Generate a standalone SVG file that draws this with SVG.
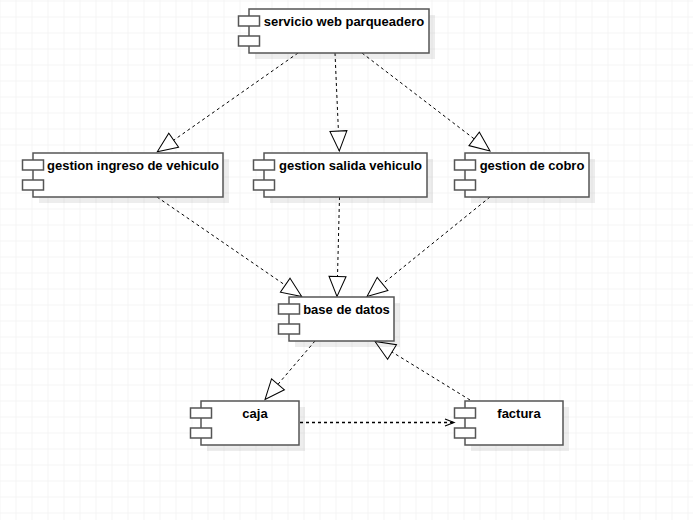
<svg xmlns="http://www.w3.org/2000/svg" width="693" height="520" viewBox="0 0 693 520">
<defs>
  <pattern id="grid" x="15.5" y="0.5" width="16" height="16" patternUnits="userSpaceOnUse">
    <path d="M0,0 V16 M0,0 H16" fill="none" stroke="#ececec" stroke-width="1"/>
  </pattern>
  <marker id="tri" markerUnits="userSpaceOnUse" markerWidth="24" markerHeight="21" refX="21" refY="10.5" orient="auto" viewBox="0 0 24 21">
    <path d="M1,2 L21,10.5 L1,19 Z" fill="#fff" stroke="#000" stroke-width="1"/>
  </marker>
  <marker id="open" markerUnits="userSpaceOnUse" markerWidth="12" markerHeight="10" refX="10" refY="5" orient="auto" viewBox="0 0 12 10">
    <path d="M1,1.5 L10,5 L1,8.5" fill="none" stroke="#000" stroke-width="1.2"/>
  </marker>
</defs>
<style>
  .shadow { fill: #000; fill-opacity: 0.07; stroke: none; }
  .box { fill: #fff; stroke: #555; stroke-width: 1.5; }
  .port { fill: #fff; stroke: #555; stroke-width: 1.5; }
  .label { font-family: "Liberation Sans", Arial, sans-serif; font-size: 13px; font-weight: bold; fill: #000; text-anchor: middle; }
  .dep { fill: none; stroke: #000; stroke-width: 1; stroke-dasharray: 3 3; marker-end: url(#tri); }
  .use { fill: none; stroke: #000; stroke-width: 1.4; stroke-dasharray: 3 3; marker-end: url(#open); }
</style>
<rect x="0" y="0" width="693" height="520" fill="#fff"/>
<rect x="0" y="0" width="693" height="520" fill="url(#grid)"/>

<g id="connectors">
  <path class="dep" d="M298,53 L157.3,151.7"/>
  <path class="dep" d="M335,53 L339.3,151"/>
  <path class="dep" d="M362,53 L490,151"/>
  <path class="dep" d="M157,197 L301.7,296.5"/>
  <path class="dep" d="M339.5,197 L337,296.5"/>
  <path class="dep" d="M490,197 L367,296.5"/>
  <path class="dep" d="M315,341 L265,399.5"/>
  <path class="dep" d="M470,400 L375,341.5"/>
  <path class="use" d="M300,422.5 L454,422.5"/>
</g>

<g id="servicio">
  <rect class="shadow" x="255" y="15" width="180" height="44"/>
  <rect class="box" x="249" y="9" width="180" height="44"/>
  <rect class="port" x="238.5" y="16" width="21" height="10"/>
  <rect class="port" x="238.5" y="36" width="21" height="10"/>
  <text class="label" x="344" y="26">servicio web parqueadero</text>
</g>

<g id="ingreso">
  <rect class="shadow" x="39" y="159" width="190" height="44"/>
  <rect class="box" x="33" y="153" width="190" height="44"/>
  <rect class="port" x="22.5" y="160" width="21" height="10"/>
  <rect class="port" x="22.5" y="180" width="21" height="10"/>
  <text class="label" x="133" y="170">gestion ingreso de vehiculo</text>
</g>

<g id="salida">
  <rect class="shadow" x="270" y="159" width="163" height="44"/>
  <rect class="box" x="264" y="153" width="163" height="44"/>
  <rect class="port" x="253.5" y="160" width="21" height="10"/>
  <rect class="port" x="253.5" y="180" width="21" height="10"/>
  <text class="label" x="350.5" y="170">gestion salida vehiculo</text>
</g>

<g id="cobro">
  <rect class="shadow" x="471" y="159" width="124" height="44"/>
  <rect class="box" x="465" y="153" width="124" height="44"/>
  <rect class="port" x="454.5" y="160" width="21" height="10"/>
  <rect class="port" x="454.5" y="180" width="21" height="10"/>
  <text class="label" x="532" y="170">gestion de cobro</text>
</g>

<g id="base">
  <rect class="shadow" x="295" y="303" width="105" height="44"/>
  <rect class="box" x="289" y="297" width="105" height="44"/>
  <rect class="port" x="278.5" y="304" width="21" height="10"/>
  <rect class="port" x="278.5" y="324" width="21" height="10"/>
  <text class="label" x="346.5" y="314">base de datos</text>
</g>

<g id="caja">
  <rect class="shadow" x="207" y="407" width="98" height="44"/>
  <rect class="box" x="201" y="401" width="98" height="44"/>
  <rect class="port" x="190.5" y="408" width="21" height="10"/>
  <rect class="port" x="190.5" y="428" width="21" height="10"/>
  <text class="label" x="255" y="417.5">caja</text>
</g>

<g id="factura">
  <rect class="shadow" x="471" y="407" width="98" height="44"/>
  <rect class="box" x="465" y="401" width="98" height="44"/>
  <rect class="port" x="454.5" y="408" width="21" height="10"/>
  <rect class="port" x="454.5" y="428" width="21" height="10"/>
  <text class="label" x="519" y="417.5">factura</text>
</g>
</svg>
